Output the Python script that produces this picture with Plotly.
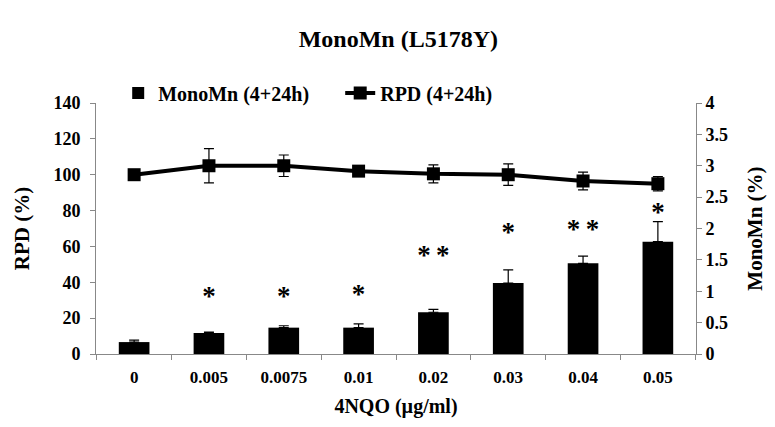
import plotly.graph_objects as go

categories = ["0", "0.005", "0.0075", "0.01", "0.02", "0.03", "0.04", "0.05"]
monomn = [0.19, 0.335, 0.42, 0.42, 0.665, 1.13, 1.445, 1.79]
monomn_err = [0.03, 0.015, 0.03, 0.06, 0.045, 0.21, 0.115, 0.32]
rpd = [100, 105, 105, 102, 100.5, 100, 96.5, 95]
rpd_err = [1.5, 9.5, 6, 3, 5, 6, 5, 4]
stars = ["", "*", "*", "*", "**", "*", "**", "*"]
star_y = [0, 0.89, 0.89, 0.92, 1.54, 1.91, 1.95, 2.22]

font = "Liberation Serif, Times New Roman, serif"

fig = go.Figure()
fig.add_trace(go.Bar(
    x=categories, y=monomn, name="MonoMn (4+24h)", yaxis="y2",
    marker=dict(color="black", line=dict(width=0)), width=0.41,
    error_y=dict(type="data", array=monomn_err, arrayminus=[0]*8, symmetric=False,
                 color="black", thickness=1.2, width=5),
))
fig.add_trace(go.Scatter(
    x=categories, y=rpd, name="RPD (4+24h)", mode="lines+markers", yaxis="y",
    line=dict(color="black", width=4),
    marker=dict(symbol="square", size=13, color="black"),
    error_y=dict(type="data", array=rpd_err, color="black", thickness=1.2, width=5),
))
fig.add_trace(go.Scatter(
    x=categories, y=star_y, text=[s.replace("**", "*\u2009*") for s in stars],
    mode="text", yaxis="y2", showlegend=False,
    textfont=dict(family=font, size=27, color="black"), textposition="middle center",
    hoverinfo="skip",
))

fig.update_layout(
    width=775, height=427,
    margin=dict(l=96, r=79, t=103, b=73, autoexpand=False),
    paper_bgcolor="white", plot_bgcolor="white",
    font=dict(family=font, size=18, color="black", weight="bold"),
    title=dict(text="MonoMn (L5178Y)", x=0.514, xanchor="center", y=0.91, yanchor="middle",
               font=dict(size=24, family=font, weight="bold")),
    showlegend=True,
    legend=dict(orientation="h", x=0.037, xanchor="left", y=1.04, yanchor="middle",
                font=dict(size=20, family=font, weight="bold"),
                entrywidth=177, entrywidthmode="pixels", bgcolor="rgba(0,0,0,0)"),
    xaxis=dict(
        type="category", showline=True, linecolor="#888888", linewidth=1,
        ticks="outside", tickson="boundaries", ticklen=5, tickcolor="#888888",
        showgrid=False, automargin=False,
        tickfont=dict(family=font, size=17, weight="bold"),
        ticklabelstandoff=8,
        title=dict(text="4NQO (µg/ml)", standoff=12,
                   font=dict(family=font, size=20, weight="bold")),
    ),
    yaxis=dict(
        range=[0, 140], dtick=20, showline=True, linecolor="#888888", linewidth=1,
        ticks="outside", ticklen=5, tickcolor="#888888", showgrid=False, zeroline=False,
        automargin=False, tickfont=dict(family=font, size=18, weight="bold"),
        ticklabelstandoff=6,
        title=dict(text="RPD (%)", standoff=18,
                   font=dict(family=font, size=21, weight="bold")),
    ),
    yaxis2=dict(
        range=[0, 4], dtick=0.5, overlaying="y", side="right", showline=True,
        linecolor="#888888", linewidth=1, ticks="outside", ticklen=5, tickcolor="#888888",
        showgrid=False, zeroline=False, automargin=False,
        tickfont=dict(family=font, size=18, weight="bold"),
        title=dict(text="MonoMn (%)", standoff=20,
                   font=dict(family=font, size=21, weight="bold")),
    ),
)

fig.write_html("out.html", config={"displayModeBar": False},
               post_script="document.body.style.margin='0px';")
